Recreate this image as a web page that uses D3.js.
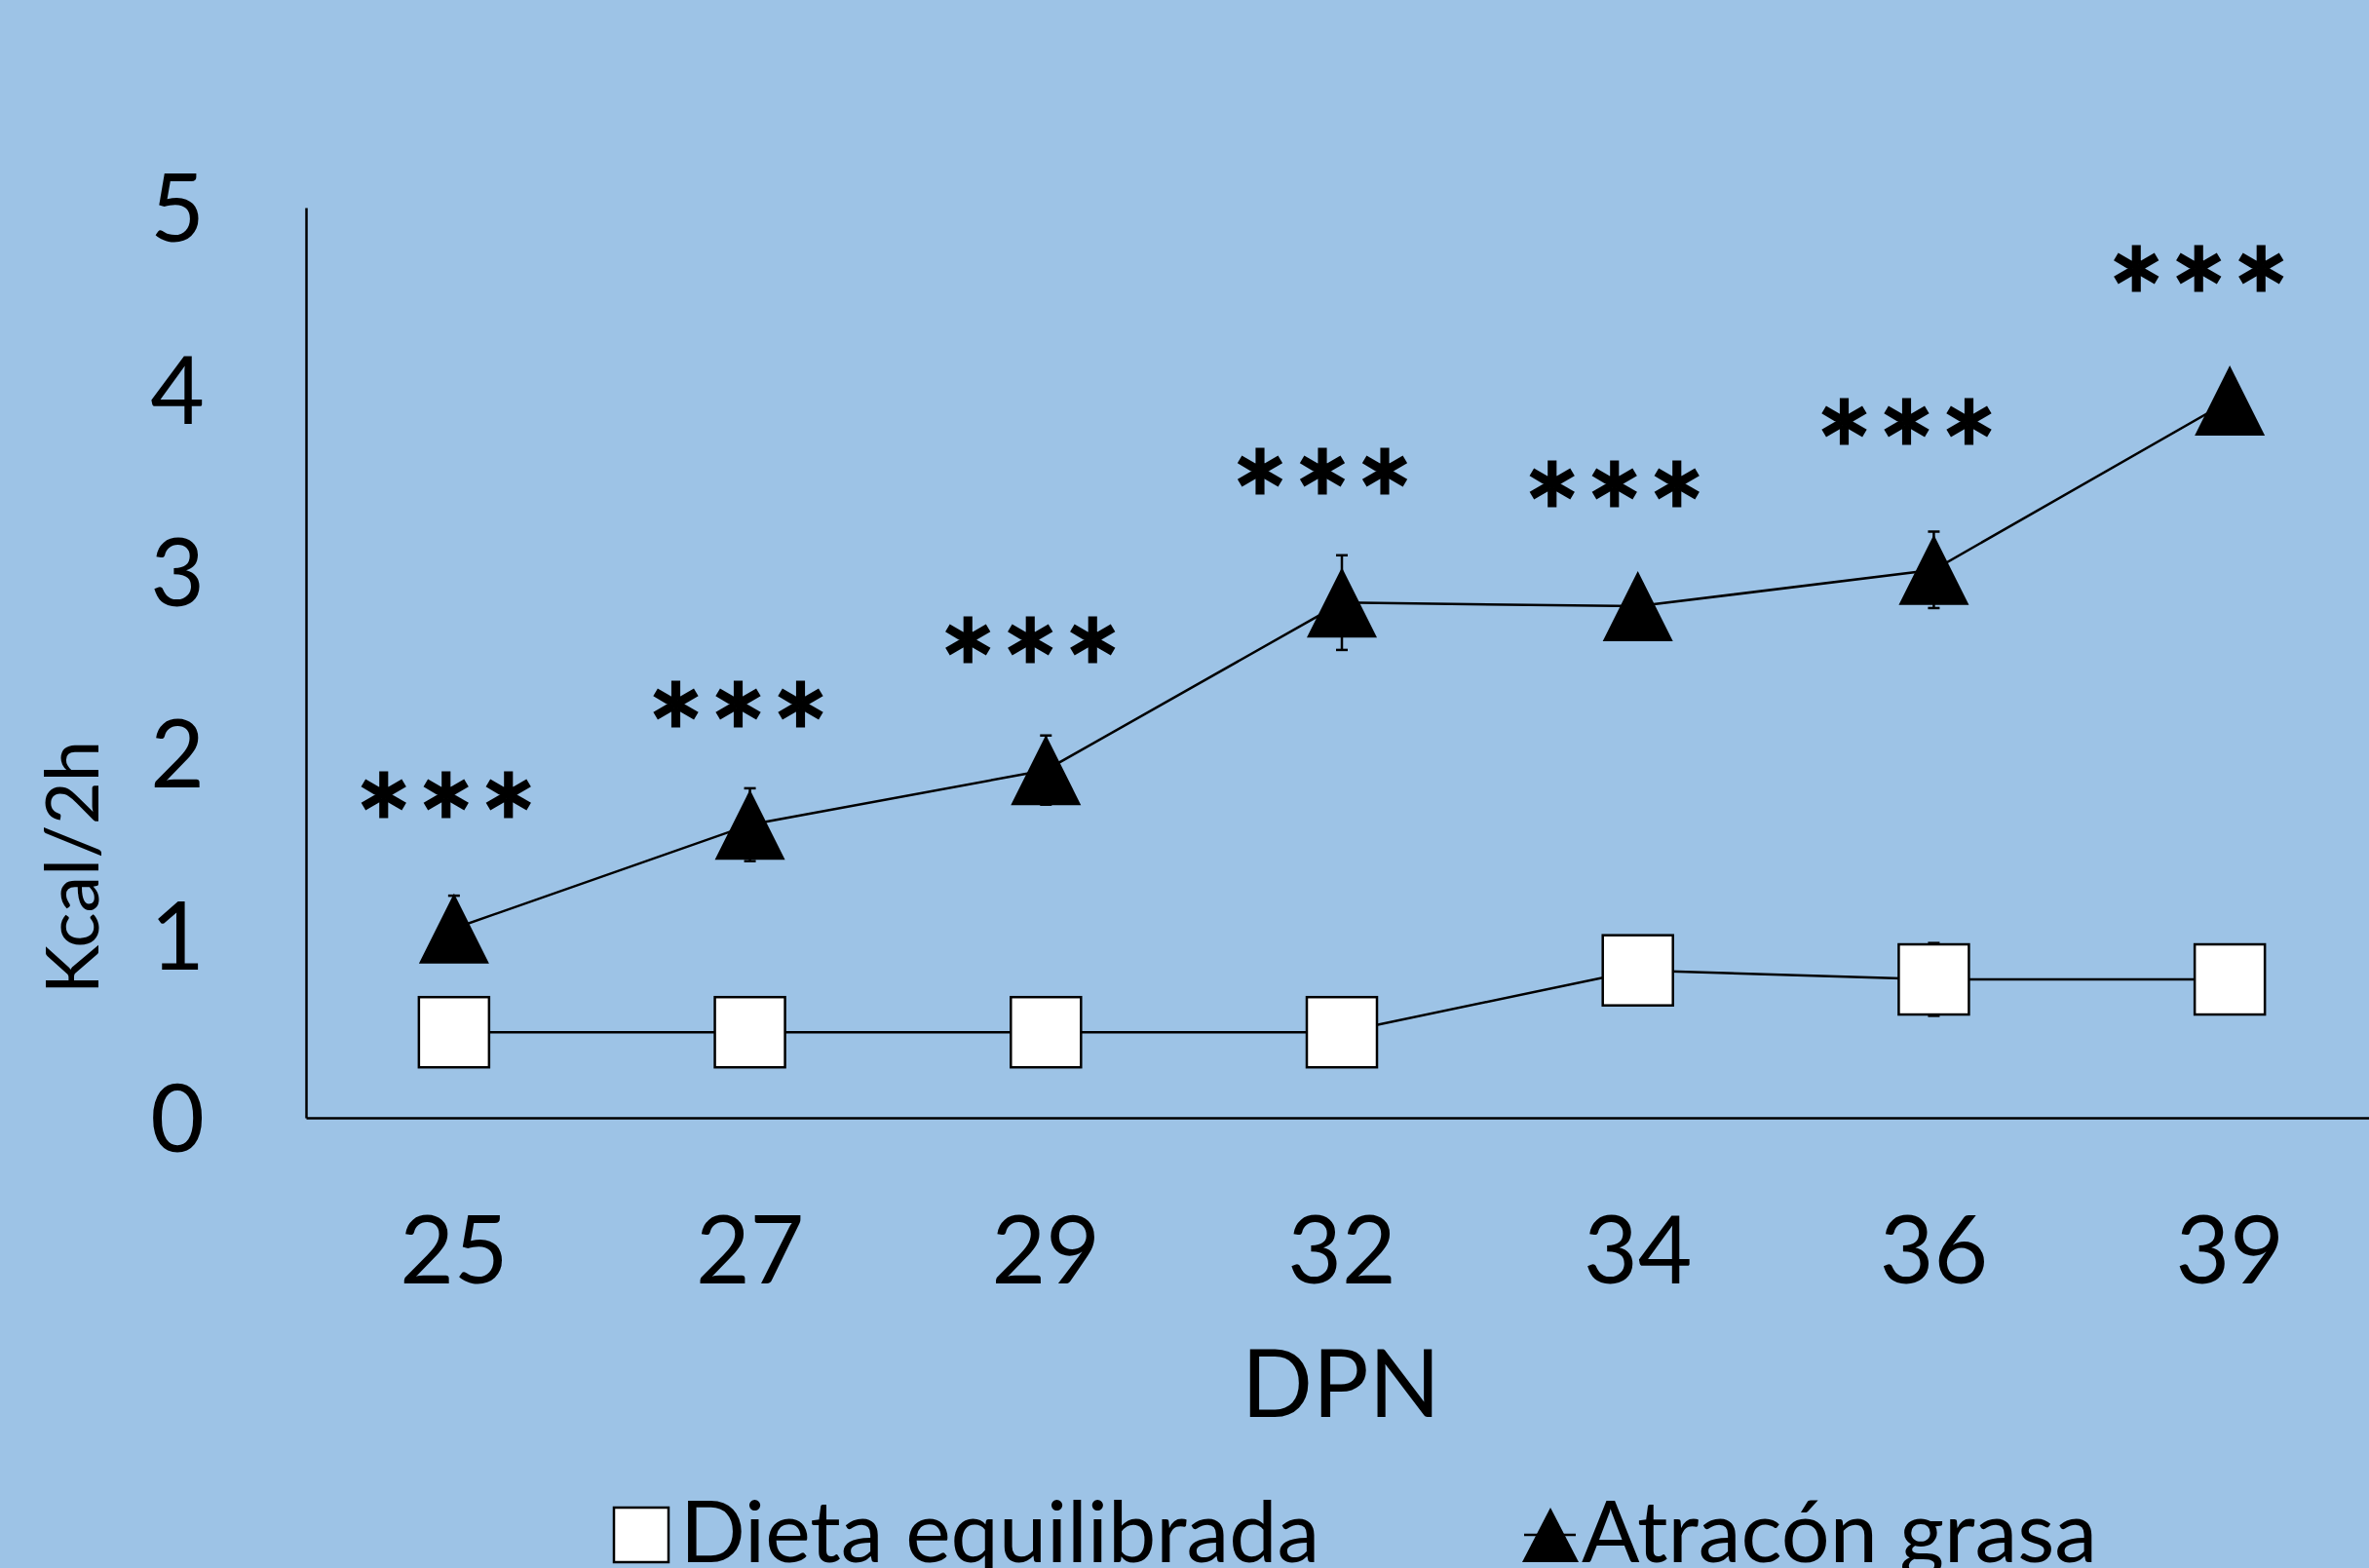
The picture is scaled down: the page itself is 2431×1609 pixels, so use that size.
<!DOCTYPE html>
<html>
<head>
<meta charset="utf-8">
<script src="https://cdn.jsdelivr.net/npm/d3@7"></script>
<style>
  html, body { margin: 0; padding: 0; background: #9dc3e6; }
  svg { display: block; }
  text { font-family: Lato, "Open Sans", sans-serif; fill: #000; }
</style>
</head>
<body>
<div id="chart"></div>
<script>
// Chart size, same as the window.
var width = 2431;
var height = 1609;

// Data.
var dpn = ["25", "27", "29", "32", "34", "36", "39"];
var dietaEquilibrada = [0.47, 0.47, 0.47, 0.47, 0.81, 0.76, 0.76];
var dietaEquilibradaErr = [0.08, 0.08, 0.08, 0.08, 0.1, 0.2, 0.08];
var atraconGrasa = [1.04, 1.61, 1.91, 2.83, 2.81, 3.01, 3.94];
var atraconGrasaErr = [0.18, 0.2, 0.19, 0.26, 0.12, 0.21, 0.12];
// Significance marks, height (in Kcal/2h) where the "***" sits.
var starLabels = ["***", "***", "***", "***", "***", "***", "***"];
var starLevel = [1.76, 2.26, 2.61, 3.54, 3.47, 3.81, 4.65];
var yTicks = [0, 1, 2, 3, 4, 5];
var seriesNames = ["Dieta equilibrada", "Atracón grasa"];

// Plot area ("top" is taken by window.top, hence the prefix).
var plotLeft = 314, plotRight = 2440, plotTop = 213, plotBottom = 1147;
var marker = 72;

var svg = d3.select("#chart").append("svg")
    .attr("width", width)
    .attr("height", height);

svg.append("rect")
    .attr("width", width)
    .attr("height", height)
    .attr("fill", "#9dc3e6");

var x = d3.scaleBand()
    .domain(dpn)
    .range([plotLeft, plotRight])
    .padding(0);

var y = d3.scaleLinear()
    .domain([0, 5])
    .range([plotBottom, plotTop]);

function cx(i) { return x(dpn[i]) + x.bandwidth() / 2; }

// Axes: y axis without ticks, x axis line runs to the edge.
var yAxis = svg.append("g")
    .attr("transform", "translate(" + plotLeft + ",0)")
    .call(d3.axisLeft(y).tickValues(yTicks).tickSize(0).tickPadding(104).tickFormat(d3.format("d")));
yAxis.select(".domain").attr("stroke", "#000").attr("stroke-width", 2.5);
yAxis.selectAll("text")
    .style("font-size", "96px")
    .style("font-family", "Lato, sans-serif")
    .attr("dy", "0.36em");

var xAxis = svg.append("g")
    .attr("transform", "translate(0," + plotBottom + ")")
    .call(d3.axisBottom(x).tickSize(0).tickPadding(0));
xAxis.select(".domain").attr("stroke", "#000").attr("stroke-width", 2.5);
xAxis.selectAll("text")
    .style("font-size", "96px")
    .style("font-family", "Lato, sans-serif")
    .attr("y", 170)
    .attr("dy", 0);

// Axis titles.
svg.append("text")
    .attr("transform", "translate(101,890) rotate(-90)")
    .attr("text-anchor", "middle")
    .style("font-size", "76px")
    .text("Kcal/2h");

svg.append("text")
    .attr("x", (plotLeft + plotRight) / 2 - 1)
    .attr("y", 1454)
    .attr("text-anchor", "middle")
    .style("font-size", "96px")
    .text("DPN");

// Lines.
var line = d3.line()
    .x(function(d, i) { return cx(i); })
    .y(function(d) { return y(d); });

[dietaEquilibrada, atraconGrasa].forEach(function(vals) {
    svg.append("path")
        .datum(vals)
        .attr("d", line)
        .attr("fill", "none")
        .attr("stroke", "#000")
        .attr("stroke-width", 2.5);
});

// Error bars, under the markers.
function errorBars(vals, errs) {
    var g = svg.append("g").attr("stroke", "#000").attr("stroke-width", 2.5);
    vals.forEach(function(v, i) {
        var x0 = cx(i);
        g.append("line")
            .attr("x1", x0).attr("x2", x0)
            .attr("y1", y(v - errs[i])).attr("y2", y(v + errs[i]));
        [v - errs[i], v + errs[i]].forEach(function(e) {
            g.append("line")
                .attr("x1", x0 - 6).attr("x2", x0 + 6)
                .attr("y1", y(e)).attr("y2", y(e));
        });
    });
}
errorBars(dietaEquilibrada, dietaEquilibradaErr);
errorBars(atraconGrasa, atraconGrasaErr);

// Triangle marker centred in its box, as in the spreadsheet.
function trianglePath(px, py, s) {
    var h = s / 2;
    return "M" + px + "," + (py - h) + "L" + (px + h) + "," + (py + h) + "L" + (px - h) + "," + (py + h) + "Z";
}

svg.append("g").selectAll("rect")
    .data(dietaEquilibrada)
    .enter().append("rect")
    .attr("x", function(d, i) { return cx(i) - marker / 2; })
    .attr("y", function(d) { return y(d) - marker / 2; })
    .attr("width", marker)
    .attr("height", marker)
    .attr("fill", "#fff")
    .attr("stroke", "#000")
    .attr("stroke-width", 2.5);

svg.append("g").selectAll("path")
    .data(atraconGrasa)
    .enter().append("path")
    .attr("d", function(d, i) { return trianglePath(cx(i), y(d), marker); })
    .attr("fill", "#000");

// Significance stars: one text each, letter-spacing set so the
// asterisks sit 64px apart like in the original. They drift a bit
// further left of the point towards the right of the chart.
var starSize = 140;
var probe = svg.append("text").style("font-size", starSize + "px").text("*");
var starAdvance = probe.node().getComputedTextLength();
probe.remove();

svg.append("g").selectAll("text")
    .data(starLabels)
    .enter().append("text")
    .attr("x", function(d, i) { return cx(i) - (8 + 4 * i) - 64; })
    .attr("y", function(d, i) { return y(starLevel[i]) + 80; })
    .attr("text-anchor", "start")
    .attr("dx", -starAdvance / 2)
    .style("font-size", starSize + "px")
    .style("letter-spacing", (64 - starAdvance) + "px")
    .attr("stroke", "#000")
    .attr("stroke-width", 3)
    .text(function(d) { return d; });

// Legend along the bottom edge.
var legend = svg.append("g");
legend.append("rect")
    .attr("x", 630).attr("y", 1547)
    .attr("width", 56).attr("height", 56)
    .attr("fill", "#fff")
    .attr("stroke", "#000")
    .attr("stroke-width", 2.5);
legend.append("text")
    .attr("x", 698).attr("y", 1603)
    .style("font-size", "88px")
    .text(seriesNames[0]);

legend.append("line")
    .attr("x1", 1564).attr("x2", 1617)
    .attr("y1", 1575).attr("y2", 1575)
    .attr("stroke", "#000").attr("stroke-width", 2.5);
legend.append("path")
    .attr("d", "M1591,1547L1620,1603L1562,1603Z")
    .attr("fill", "#000");
legend.append("text")
    .attr("x", 1623).attr("y", 1603)
    .style("font-size", "88px")
    .text(seriesNames[1]);
</script>
</body>
</html>
